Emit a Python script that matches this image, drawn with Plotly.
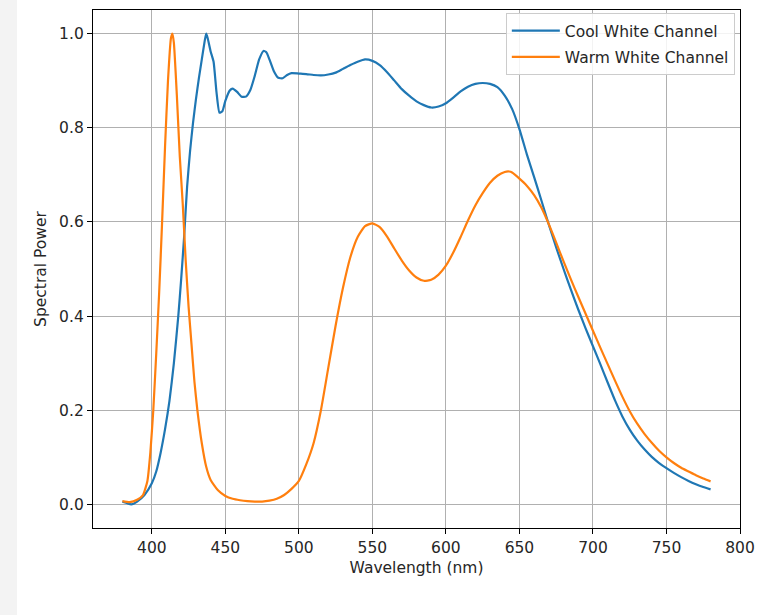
import plotly.graph_objects as go

# Cool White Channel (wavelength nm, relative spectral power)
cool_wl = [380, 383, 386, 390, 395, 400, 403, 406, 409, 412, 415, 418, 420, 422, 424,
           426, 428, 430, 432, 434, 436, 437, 438, 440, 442, 444, 446, 448, 450, 453,
           455, 458, 461, 464, 467, 470, 473, 476, 478, 480, 483, 486, 489, 492, 495,
           500, 505, 510, 515, 520, 525, 530, 535, 540, 545, 550, 555, 560, 565, 570,
           575, 580, 585, 590, 595, 600, 605, 610, 615, 620, 625, 630, 635, 640, 645,
           650, 655, 660, 665, 670, 675, 680, 685, 690, 695, 700, 705, 710, 715, 720,
           725, 730, 735, 740, 745, 750, 755, 760, 765, 770, 775, 780]
cool_val = [0.006, 0.003, 0.0, 0.006, 0.02, 0.045, 0.07, 0.11, 0.16, 0.22, 0.30, 0.40, 0.48, 0.57, 0.675,
            0.75, 0.81, 0.86, 0.905, 0.945, 0.985, 1.0, 0.99, 0.962, 0.94, 0.875, 0.832, 0.835, 0.857, 0.879,
            0.883, 0.876, 0.866, 0.866, 0.88, 0.91, 0.945, 0.963, 0.96, 0.945, 0.92, 0.906, 0.905, 0.912, 0.916,
            0.915, 0.914, 0.912, 0.911, 0.913, 0.917, 0.925, 0.933, 0.94, 0.945, 0.942, 0.933, 0.918, 0.9, 0.882,
            0.868, 0.856, 0.848, 0.843, 0.845, 0.852, 0.864, 0.877, 0.887, 0.893, 0.895, 0.893, 0.886, 0.868, 0.84,
            0.797, 0.744, 0.695, 0.645, 0.594, 0.546, 0.5, 0.456, 0.414, 0.374, 0.336, 0.298, 0.259, 0.221, 0.187,
            0.159, 0.136, 0.117, 0.101, 0.088, 0.077, 0.067, 0.058, 0.05, 0.043, 0.037, 0.032]

# Warm White Channel
warm_wl = [380, 385, 390, 394, 397, 399, 401, 403, 405, 407, 409, 411, 413, 414, 415,
           417, 419, 421, 423, 425, 427, 429, 431, 434, 437, 440, 445, 450, 455, 460,
           465, 470, 475, 480, 485, 490, 495, 500, 505, 510, 515, 520, 525, 530, 535,
           540, 545, 550, 555, 560, 565, 570, 575, 580, 585, 590, 595, 600, 605, 610,
           615, 620, 625, 630, 635, 640, 643, 645, 650, 655, 660, 665, 670, 675, 680,
           685, 690, 695, 700, 705, 710, 715, 720, 725, 730, 735, 740, 745, 750, 755,
           760, 765, 770, 775, 780]
warm_val = [0.007, 0.005, 0.01, 0.02, 0.05, 0.11, 0.2, 0.32, 0.45, 0.6, 0.76, 0.9, 0.99, 1.0, 0.98,
            0.87, 0.74, 0.64, 0.52, 0.42, 0.34, 0.26, 0.2, 0.13, 0.08, 0.052, 0.03, 0.018, 0.012, 0.009,
            0.007, 0.006, 0.006, 0.008, 0.012, 0.02, 0.033, 0.05, 0.085, 0.13, 0.2, 0.29, 0.38, 0.46, 0.525,
            0.568, 0.591, 0.597, 0.589, 0.569, 0.543, 0.518, 0.497, 0.482, 0.475, 0.477, 0.488, 0.507, 0.535, 0.568,
            0.603, 0.635, 0.661, 0.683, 0.698, 0.706, 0.707, 0.705, 0.692, 0.677, 0.657, 0.63, 0.595, 0.556, 0.516,
            0.478, 0.441, 0.405, 0.369, 0.333, 0.298, 0.263, 0.229, 0.198, 0.172, 0.15, 0.131, 0.114, 0.1, 0.088,
            0.078, 0.07, 0.062, 0.055, 0.049]

x_ticks = [400, 450, 500, 550, 600, 650, 700, 750, 800]
y_ticks = [0.0, 0.2, 0.4, 0.6, 0.8, 1.0]

FONT = "DejaVu Sans"
FS = 15.5
TXT = "#262626"

fig = go.Figure()
fig.add_trace(go.Scatter(x=cool_wl, y=cool_val, mode="lines", name="Cool White Channel",
                         legendgroup="c", line=dict(color="#1f77b4", width=2.2, shape="spline", smoothing=0.5)))
fig.add_trace(go.Scatter(x=warm_wl, y=warm_val, mode="lines", name="Warm White Channel",
                         legendgroup="w", line=dict(color="#ff7f0e", width=2.2, shape="spline", smoothing=0.5)))

axis_common = dict(showgrid=True, gridcolor="#b0b0b0", gridwidth=1, zeroline=False,
                   showline=True, linecolor="black", linewidth=1.3, mirror=True,
                   ticks="outside", ticklen=5, tickcolor="black",
                   tickfont=dict(family=FONT, size=FS, color=TXT))

fig.update_xaxes(range=[360, 800], tickvals=x_ticks, ticktext=[str(v) for v in x_ticks],
                 title=dict(text="Wavelength (nm)", font=dict(family=FONT, size=FS, color=TXT), standoff=6),
                 **axis_common)
fig.update_yaxes(range=[-0.05, 1.05], tickvals=y_ticks, ticktext=[f"{v:.1f}" for v in y_ticks],
                 title=dict(text="Spectral Power", font=dict(family=FONT, size=FS, color=TXT), standoff=8),
                 **axis_common)

fig.add_shape(type="rect", xref="paper", yref="paper", x0=-0.1437, x1=-0.1175, y0=-0.17, y1=1.02,
              fillcolor="#f3f3f3", line=dict(width=0), layer="below")

fig.update_layout(
    width=759, height=615,
    margin=dict(l=93, r=19, t=10, b=87, autoexpand=False),
    plot_bgcolor="white", paper_bgcolor="white",
    font=dict(family=FONT, size=FS, color=TXT),
    showlegend=True,
    legend=dict(x=0.992, y=0.994, xanchor="right", yanchor="top",
                bgcolor="rgba(255,255,255,0.85)", bordercolor="#cccccc", borderwidth=1,
                font=dict(family=FONT, size=FS, color=TXT),
                traceorder="grouped", tracegroupgap=3, itemwidth=48),
)

fig.write_html("out.html", config={"displayModeBar": False},
               post_script="document.body.style.margin='0';document.body.style.padding='0';")
